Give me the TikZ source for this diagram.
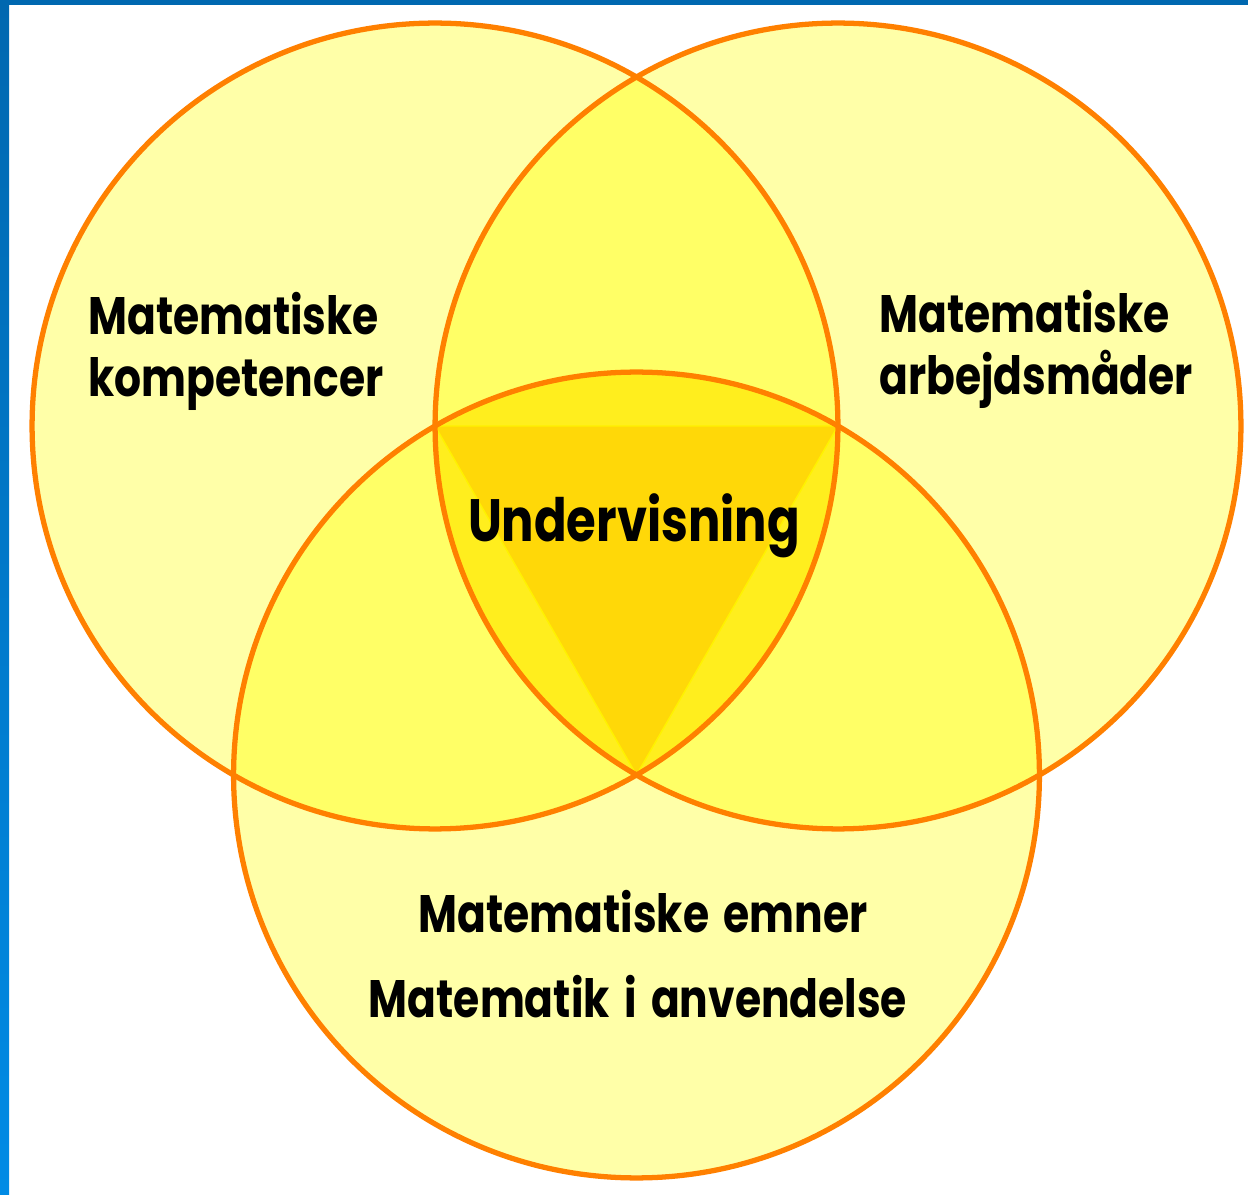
\documentclass[tikz,border=0pt]{standalone}
\usepackage{fontspec}
\setmainfont{Poppins}[BoldFont={Poppins Bold}]
\newfontfamily\labelfont{Poppins Bold}[FakeStretch=0.805, WordSpace=1.6]
\definecolor{outerY}{HTML}{FFFFA8}
\definecolor{pairY}{HTML}{FFFF66}
\definecolor{tripleY}{HTML}{FFEE1E}
\definecolor{coreY}{HTML}{FFD808}
\definecolor{edgeY}{HTML}{FFF200}
\definecolor{ring}{HTML}{FF8000}
\definecolor{frameTop}{HTML}{0068B0}
\definecolor{frameBot}{HTML}{008BE5}
\tikzset{
  ringline/.style={draw=ring, line width=3pt},
  sidelabel/.style={font=\labelfont\fontsize{30}{35.7}\selectfont, inner sep=0pt, align=left, text=black},
  centerlabel/.style={font=\labelfont\fontsize{34}{40}\selectfont, inner sep=0pt, text=black},
}
\begin{document}
\begin{tikzpicture}[x=0.02cm, y=-0.02cm]
\useasboundingbox (0,0) rectangle (1248,1195);
\fill[white] (0,0) rectangle (1248,1195);
% frame
\shade[top color=frameTop, bottom color=frameBot] (0,0) rectangle (9,1195);
\fill[frameTop] (0,0) rectangle (1248,5);
% centres
\coordinate (L) at (435,426);
\coordinate (R) at (838,426);
\coordinate (B) at (636.5,775);
\def\rr{8.06cm}
% outer fills
\fill[outerY] (L) circle[radius=\rr];
\fill[outerY] (R) circle[radius=\rr];
\fill[outerY] (B) circle[radius=\rr];
% pairwise overlaps
\begin{scope}
  \clip (L) circle[radius=\rr];
  \fill[pairY] (R) circle[radius=\rr];
  \fill[pairY] (B) circle[radius=\rr];
\end{scope}
\begin{scope}
  \clip (R) circle[radius=\rr];
  \fill[pairY] (B) circle[radius=\rr];
\end{scope}
% triple overlap
\begin{scope}
  \clip (L) circle[radius=\rr];
  \clip (R) circle[radius=\rr];
  \fill[tripleY] (B) circle[radius=\rr];
\end{scope}
% core triangle
\fill[coreY, draw=edgeY, line width=0.8pt] (L) -- (R) -- (B) -- cycle;
% outlines
\draw[ringline] (L) circle[radius=\rr];
\draw[ringline] (R) circle[radius=\rr];
\draw[ringline] (B) circle[radius=\rr];
% labels
\node[sidelabel, anchor=base west] (komp) at (88,397) {Matematiske\\kompetencer};
\node[sidelabel, anchor=base west] (arb) at (879,395) {Matematiske\\arbejdsmåder};
\node[centerlabel, anchor=base] (und) at (634,542) {Undervisning};
\node[sidelabel, anchor=base] (emner) at (643,932) {Matematiske emner};
\node[sidelabel, anchor=base] (anv) at (638,1017) {Matematik i anvendelse};
\end{tikzpicture}
\end{document}
